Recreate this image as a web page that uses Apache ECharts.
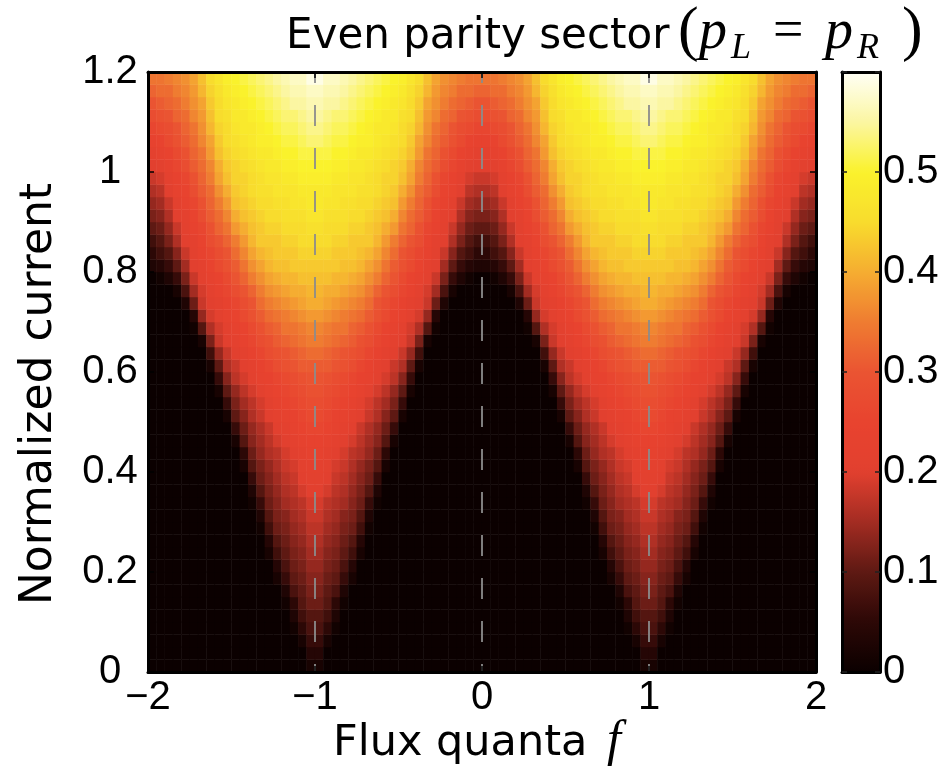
<!DOCTYPE html>
<html>
<head>
<meta charset="utf-8">
<script src="https://cdn.jsdelivr.net/npm/echarts@6/dist/echarts.min.js"></script>
<style>
html,body{margin:0;padding:0;background:#fff;}
#chart{width:946px;height:775px;}
</style>
</head>
<body>
<div id="chart"></div>
<script>
// Flux cell centres (f), 0.05 wide, left to right
const fluxCenters = [
-1.975,-1.925,-1.875,-1.825,-1.775,-1.725,-1.675,-1.625,-1.575,-1.525,
-1.475,-1.425,-1.375,-1.325,-1.275,-1.225,-1.175,-1.125,-1.075,-1.025,
-0.975,-0.925,-0.875,-0.825,-0.775,-0.725,-0.675,-0.625,-0.575,-0.525,
-0.475,-0.425,-0.375,-0.325,-0.275,-0.225,-0.175,-0.125,-0.075,-0.025,
0.025,0.075,0.125,0.175,0.225,0.275,0.325,0.375,0.425,0.475,
0.525,0.575,0.625,0.675,0.725,0.775,0.825,0.875,0.925,0.975,
1.025,1.075,1.125,1.175,1.225,1.275,1.325,1.375,1.425,1.475,
1.525,1.575,1.625,1.675,1.725,1.775,1.825,1.875,1.925,1.975];

// Normalized-current cell centres, 0.025 tall, bottom to top
const currentCenters = [
0.0125,0.0375,0.0625,0.0875,0.1125,0.1375,0.1625,0.1875,0.2125,0.2375,0.2625,0.2875,
0.3125,0.3375,0.3625,0.3875,0.4125,0.4375,0.4625,0.4875,0.5125,0.5375,0.5625,0.5875,
0.6125,0.6375,0.6625,0.6875,0.7125,0.7375,0.7625,0.7875,0.8125,0.8375,0.8625,0.8875,
0.9125,0.9375,0.9625,0.9875,1.0125,1.0375,1.0625,1.0875,1.1125,1.1375,1.1625,1.1875];

// Colour value, in hundredths; one row per current level (bottom to top), 80 flux cells each
const r00=[0,0,0,0,0,0,0,0,0,0,0,0,0,0,0,0,0,0,0,2, 2,0,0,0,0,0,0,0,0,0,0,0,0,0,0,0,0,0,0,0, 0,0,0,0,0,0,0,0,0,0,0,0,0,0,0,0,0,0,0,2, 2,0,0,0,0,0,0,0,0,0,0,0,0,0,0,0,0,0,0,0];
const r01=[0,0,0,0,0,0,0,0,0,0,0,0,0,0,0,0,0,0,0,4, 4,0,0,0,0,0,0,0,0,0,0,0,0,0,0,0,0,0,0,0, 0,0,0,0,0,0,0,0,0,0,0,0,0,0,0,0,0,0,0,4, 4,0,0,0,0,0,0,0,0,0,0,0,0,0,0,0,0,0,0,0];
const r02=[0,0,0,0,0,0,0,0,0,0,0,0,0,0,0,0,0,0,2,6, 6,2,0,0,0,0,0,0,0,0,0,0,0,0,0,0,0,0,0,0, 0,0,0,0,0,0,0,0,0,0,0,0,0,0,0,0,0,0,2,6, 6,2,0,0,0,0,0,0,0,0,0,0,0,0,0,0,0,0,0,0];
const r03=[0,0,0,0,0,0,0,0,0,0,0,0,0,0,0,0,0,1,5,8, 8,5,1,0,0,0,0,0,0,0,0,0,0,0,0,0,0,0,0,0, 0,0,0,0,0,0,0,0,0,0,0,0,0,0,0,0,0,1,5,8, 8,5,1,0,0,0,0,0,0,0,0,0,0,0,0,0,0,0,0,0];
const r04=[0,0,0,0,0,0,0,0,0,0,0,0,0,0,0,0,0,3,7,9, 9,7,3,0,0,0,0,0,0,0,0,0,0,0,0,0,0,0,0,0, 0,0,0,0,0,0,0,0,0,0,0,0,0,0,0,0,0,3,7,9, 9,7,3,0,0,0,0,0,0,0,0,0,0,0,0,0,0,0,0,0];
const r05=[0,0,0,0,0,0,0,0,0,0,0,0,0,0,0,0,1,5,9,11, 11,9,5,1,0,0,0,0,0,0,0,0,0,0,0,0,0,0,0,0, 0,0,0,0,0,0,0,0,0,0,0,0,0,0,0,0,1,5,9,11, 11,9,5,1,0,0,0,0,0,0,0,0,0,0,0,0,0,0,0,0];
const r06=[0,0,0,0,0,0,0,0,0,0,0,0,0,0,0,0,3,8,10,12, 12,10,8,3,0,0,0,0,0,0,0,0,0,0,0,0,0,0,0,0, 0,0,0,0,0,0,0,0,0,0,0,0,0,0,0,0,3,8,10,12, 12,10,8,3,0,0,0,0,0,0,0,0,0,0,0,0,0,0,0,0];
const r07=[0,0,0,0,0,0,0,0,0,0,0,0,0,0,0,2,6,10,11,13, 13,11,10,6,2,0,0,0,0,0,0,0,0,0,0,0,0,0,0,0, 0,0,0,0,0,0,0,0,0,0,0,0,0,0,0,2,6,10,11,13, 13,11,10,6,2,0,0,0,0,0,0,0,0,0,0,0,0,0,0,0];
const r08=[0,0,0,0,0,0,0,0,0,0,0,0,0,0,0,4,8,11,12,14, 14,12,11,8,4,0,0,0,0,0,0,0,0,0,0,0,0,0,0,0, 0,0,0,0,0,0,0,0,0,0,0,0,0,0,0,4,8,11,12,14, 14,12,11,8,4,0,0,0,0,0,0,0,0,0,0,0,0,0,0,0];
const r09=[0,0,0,0,0,0,0,0,0,0,0,0,0,0,2,7,10,12,13,15, 15,13,12,10,7,2,0,0,0,0,0,0,0,0,0,0,0,0,0,0, 0,0,0,0,0,0,0,0,0,0,0,0,0,0,2,7,10,12,13,15, 15,13,12,10,7,2,0,0,0,0,0,0,0,0,0,0,0,0,0,0];
const r10=[0,0,0,0,0,0,0,0,0,0,0,0,0,0,4,9,11,13,14,16, 16,14,13,11,9,4,0,0,0,0,0,0,0,0,0,0,0,0,0,0, 0,0,0,0,0,0,0,0,0,0,0,0,0,0,4,9,11,13,14,16, 16,14,13,11,9,4,0,0,0,0,0,0,0,0,0,0,0,0,0,0];
const r11=[0,0,0,0,0,0,0,0,0,0,0,0,0,1,7,11,12,14,15,17, 17,15,14,12,11,7,1,0,0,0,0,0,0,0,0,0,0,0,0,0, 0,0,0,0,0,0,0,0,0,0,0,0,0,1,7,11,12,14,15,17, 17,15,14,12,11,7,1,0,0,0,0,0,0,0,0,0,0,0,0,0];
const r12=[0,0,0,0,0,0,0,0,0,0,0,0,0,3,9,12,13,15,16,18, 18,16,15,13,12,9,3,0,0,0,0,0,0,0,0,0,0,0,0,0, 0,0,0,0,0,0,0,0,0,0,0,0,0,3,9,12,13,15,16,18, 18,16,15,13,12,9,3,0,0,0,0,0,0,0,0,0,0,0,0,0];
const r13=[0,0,0,0,0,0,0,0,0,0,0,0,1,6,11,13,15,16,17,19, 19,17,16,15,13,11,6,1,0,0,0,0,0,0,0,0,0,0,0,0, 0,0,0,0,0,0,0,0,0,0,0,0,1,6,11,13,15,16,17,19, 19,17,16,15,13,11,6,1,0,0,0,0,0,0,0,0,0,0,0,0];
const r14=[0,0,0,0,0,0,0,0,0,0,0,0,3,9,12,14,16,17,19,20, 20,19,17,16,14,12,9,3,0,0,0,0,0,0,0,0,0,0,0,0, 0,0,0,0,0,0,0,0,0,0,0,0,3,9,12,14,16,17,19,20, 20,19,17,16,14,12,9,3,0,0,0,0,0,0,0,0,0,0,0,0];
const r15=[0,0,0,0,0,0,0,0,0,0,0,0,6,11,13,15,17,18,20,21, 21,20,18,17,15,13,11,6,0,0,0,0,0,0,0,0,0,0,0,0, 0,0,0,0,0,0,0,0,0,0,0,0,6,11,13,15,17,18,20,21, 21,20,18,17,15,13,11,6,0,0,0,0,0,0,0,0,0,0,0,0];
const r16=[0,0,0,0,0,0,0,0,0,0,0,2,9,12,14,16,18,19,21,22, 22,21,19,18,16,14,12,9,2,0,0,0,0,0,0,0,0,0,0,0, 0,0,0,0,0,0,0,0,0,0,0,2,9,12,14,16,18,19,21,22, 22,21,19,18,16,14,12,9,2,0,0,0,0,0,0,0,0,0,0,0];
const r17=[0,0,0,0,0,0,0,0,0,0,0,5,11,14,16,17,19,20,22,23, 23,22,20,19,17,16,14,11,5,0,0,0,0,0,0,0,0,0,0,0, 0,0,0,0,0,0,0,0,0,0,0,5,11,14,16,17,19,20,22,23, 23,22,20,19,17,16,14,11,5,0,0,0,0,0,0,0,0,0,0,0];
const r18=[0,0,0,0,0,0,0,0,0,0,2,9,13,15,17,19,20,22,23,24, 24,23,22,20,19,17,15,13,9,2,0,0,0,0,0,0,0,0,0,0, 0,0,0,0,0,0,0,0,0,0,2,9,13,15,17,19,20,22,23,24, 24,23,22,20,19,17,15,13,9,2,0,0,0,0,0,0,0,0,0,0];
const r19=[0,0,0,0,0,0,0,0,0,0,6,11,14,16,18,20,22,23,25,26, 26,25,23,22,20,18,16,14,11,6,0,0,0,0,0,0,0,0,0,0, 0,0,0,0,0,0,0,0,0,0,6,11,14,16,18,20,22,23,25,26, 26,25,23,22,20,18,16,14,11,6,0,0,0,0,0,0,0,0,0,0];
const r20=[0,0,0,0,0,0,0,0,0,2,10,13,16,18,20,22,23,24,26,27, 27,26,24,23,22,20,18,16,13,10,2,0,0,0,0,0,0,0,0,0, 0,0,0,0,0,0,0,0,0,2,10,13,16,18,20,22,23,24,26,27, 27,26,24,23,22,20,18,16,13,10,2,0,0,0,0,0,0,0,0,0];
const r21=[0,0,0,0,0,0,0,0,0,6,12,15,17,19,21,23,25,26,27,28, 28,27,26,25,23,21,19,17,15,12,6,0,0,0,0,0,0,0,0,0, 0,0,0,0,0,0,0,0,0,6,12,15,17,19,21,23,25,26,27,28, 28,27,26,25,23,21,19,17,15,12,6,0,0,0,0,0,0,0,0,0];
const r22=[0,0,0,0,0,0,0,0,2,10,14,17,19,21,23,25,26,27,28,29, 29,28,27,26,25,23,21,19,17,14,10,2,0,0,0,0,0,0,0,0, 0,0,0,0,0,0,0,0,2,10,14,17,19,21,23,25,26,27,28,29, 29,28,27,26,25,23,21,19,17,14,10,2,0,0,0,0,0,0,0,0];
const r23=[0,0,0,0,0,0,0,0,6,13,17,19,21,23,24,26,27,28,29,30, 30,29,28,27,26,24,23,21,19,17,13,6,0,0,0,0,0,0,0,0, 0,0,0,0,0,0,0,0,6,13,17,19,21,23,24,26,27,28,29,30, 30,29,28,27,26,24,23,21,19,17,13,6,0,0,0,0,0,0,0,0];
const r24=[0,0,0,0,0,0,0,2,10,16,18,20,22,24,26,28,29,30,31,31, 31,31,30,29,28,26,24,22,20,18,16,10,2,0,0,0,0,0,0,0, 0,0,0,0,0,0,0,2,10,16,18,20,22,24,26,28,29,30,31,31, 31,31,30,29,28,26,24,22,20,18,16,10,2,0,0,0,0,0,0,0];
const r25=[0,0,0,0,0,0,0,7,14,18,20,22,24,26,28,29,30,31,32,33, 33,32,31,30,29,28,26,24,22,20,18,14,7,0,0,0,0,0,0,0, 0,0,0,0,0,0,0,7,14,18,20,22,24,26,28,29,30,31,32,33, 33,32,31,30,29,28,26,24,22,20,18,14,7,0,0,0,0,0,0,0];
const r26=[0,0,0,0,0,0,2,12,18,20,22,24,26,28,29,31,32,33,34,35, 35,34,33,32,31,29,28,26,24,22,20,18,12,2,0,0,0,0,0,0, 0,0,0,0,0,0,2,12,18,20,22,24,26,28,29,31,32,33,34,35, 35,34,33,32,31,29,28,26,24,22,20,18,12,2,0,0,0,0,0,0];
const r27=[0,0,0,0,0,1,9,16,19,21,23,25,27,29,31,32,34,34,35,36, 36,35,34,34,32,31,29,27,25,23,21,19,16,9,1,0,0,0,0,0, 0,0,0,0,0,1,9,16,19,21,23,25,27,29,31,32,34,34,35,36, 36,35,34,34,32,31,29,27,25,23,21,19,16,9,1,0,0,0,0,0];
const r28=[0,0,0,0,0,4,14,19,21,23,25,27,29,31,33,34,35,36,37,38, 38,37,36,35,34,33,31,29,27,25,23,21,19,14,4,0,0,0,0,0, 0,0,0,0,0,4,14,19,21,23,25,27,29,31,33,34,35,36,37,38, 38,37,36,35,34,33,31,29,27,25,23,21,19,14,4,0,0,0,0,0];
const r29=[0,0,0,0,3,11,18,20,22,24,26,28,30,33,35,36,37,38,39,40, 40,39,38,37,36,35,33,30,28,26,24,22,20,18,11,3,0,0,0,0, 0,0,0,0,3,11,18,20,22,24,26,28,30,33,35,36,37,38,39,40, 40,39,38,37,36,35,33,30,28,26,24,22,20,18,11,3,0,0,0,0];
const r30=[0,0,0,2,8,15,19,22,24,26,28,30,32,35,37,38,39,40,40,41, 41,40,40,39,38,37,35,32,30,28,26,24,22,19,15,8,2,0,0,0, 0,0,0,2,8,15,19,22,24,26,28,30,32,35,37,38,39,40,40,41, 41,40,40,39,38,37,35,32,30,28,26,24,22,19,15,8,2,0,0,0];
const r31=[0,1,3,6,12,18,21,23,25,27,30,32,35,37,39,40,41,41,42,42, 42,42,41,41,40,39,37,35,32,30,27,25,23,21,18,12,6,3,1,0, 0,1,3,6,12,18,21,23,25,27,30,32,35,37,39,40,41,41,42,42, 42,42,41,41,40,39,37,35,32,30,27,25,23,21,18,12,6,3,1,0];
const r32=[3,4,6,10,15,20,22,25,27,29,31,34,37,39,41,42,42,43,43,43, 43,43,43,42,42,41,39,37,34,31,29,27,25,22,20,15,10,6,4,3, 3,4,6,10,15,20,22,25,27,29,31,34,37,39,41,42,42,43,43,43, 43,43,43,42,42,41,39,37,34,31,29,27,25,22,20,15,10,6,4,3];
const r33=[5,7,9,13,18,21,24,26,28,30,33,36,39,41,42,43,43,43,44,44, 44,44,43,43,43,42,41,39,36,33,30,28,26,24,21,18,13,9,7,5, 5,7,9,13,18,21,24,26,28,30,33,36,39,41,42,43,43,43,44,44, 44,44,43,43,43,42,41,39,36,33,30,28,26,24,21,18,13,9,7,5];
const r34=[7,9,12,16,20,22,25,28,30,32,35,38,41,43,43,43,44,44,45,45, 45,45,44,44,43,43,43,41,38,35,32,30,28,25,22,20,16,12,9,7, 7,9,12,16,20,22,25,28,30,32,35,38,41,43,43,43,44,44,45,45, 45,45,44,44,43,43,43,41,38,35,32,30,28,25,22,20,16,12,9,7];
const r35=[10,11,14,18,21,24,26,29,32,34,38,40,42,43,44,44,45,45,45,46, 46,45,45,45,44,44,43,42,40,38,34,32,29,26,24,21,18,14,11,10, 10,11,14,18,21,24,26,29,32,34,38,40,42,43,44,44,45,45,45,46, 46,45,45,45,44,44,43,42,40,38,34,32,29,26,24,21,18,14,11,10];
const r36=[12,13,16,20,22,25,28,31,33,36,40,42,43,44,45,45,46,46,46,47, 47,46,46,46,45,45,44,43,42,40,36,33,31,28,25,22,20,16,13,12, 12,13,16,20,22,25,28,31,33,36,40,42,43,44,45,45,46,46,46,47, 47,46,46,46,45,45,44,43,42,40,36,33,31,28,25,22,20,16,13,12];
const r37=[14,15,18,21,24,26,29,32,35,38,42,43,44,45,45,46,46,47,47,48, 48,47,47,46,46,45,45,44,43,42,38,35,32,29,26,24,21,18,15,14, 14,15,18,21,24,26,29,32,35,38,42,43,44,45,45,46,46,47,47,48, 48,47,47,46,46,45,45,44,43,42,38,35,32,29,26,24,21,18,15,14];
const r38=[16,17,20,23,25,28,31,33,37,40,43,44,45,46,46,47,47,47,48,48, 48,48,47,47,47,46,46,45,44,43,40,37,33,31,28,25,23,20,17,16, 16,17,20,23,25,28,31,33,37,40,43,44,45,46,46,47,47,47,48,48, 48,48,47,47,47,46,46,45,44,43,40,37,33,31,28,25,23,20,17,16];
const r39=[18,19,22,24,26,29,32,35,39,42,44,44,45,46,47,47,48,48,49,49, 49,49,48,48,47,47,46,45,44,44,42,39,35,32,29,26,24,22,19,18, 18,19,22,24,26,29,32,35,39,42,44,44,45,46,47,47,48,48,49,49, 49,49,48,48,47,47,46,45,44,44,42,39,35,32,29,26,24,22,19,18];
const r40=[20,21,23,26,28,31,33,36,40,43,44,45,46,47,48,48,49,49,50,50, 50,50,49,49,48,48,47,46,45,44,43,40,36,33,31,28,26,23,21,20, 20,21,23,26,28,31,33,36,40,43,44,45,46,47,48,48,49,49,50,50, 50,50,49,49,48,48,47,46,45,44,43,40,36,33,31,28,26,23,21,20];
const r41=[22,23,25,27,29,32,34,38,42,44,45,46,47,48,48,49,50,50,51,51, 51,51,50,50,49,48,48,47,46,45,44,42,38,34,32,29,27,25,23,22, 22,23,25,27,29,32,34,38,42,44,45,46,47,48,48,49,50,50,51,51, 51,51,50,50,49,48,48,47,46,45,44,42,38,34,32,29,27,25,23,22];
const r42=[24,25,27,29,31,33,36,39,43,45,46,47,48,49,49,50,51,51,52,53, 53,52,51,51,50,49,49,48,47,46,45,43,39,36,33,31,29,27,25,24, 24,25,27,29,31,33,36,39,43,45,46,47,48,49,49,50,51,51,52,53, 53,52,51,51,50,49,49,48,47,46,45,43,39,36,33,31,29,27,25,24];
const r43=[26,27,28,30,32,34,37,41,44,45,47,48,48,49,50,51,52,52,53,54, 54,53,52,52,51,50,49,48,48,47,45,44,41,37,34,32,30,28,27,26, 26,27,28,30,32,34,37,41,44,45,47,48,48,49,50,51,52,52,53,54, 54,53,52,52,51,50,49,48,48,47,45,44,41,37,34,32,30,28,27,26];
const r44=[28,29,30,32,33,36,38,42,45,46,48,48,49,50,51,52,53,53,54,55, 55,54,53,53,52,51,50,49,48,48,46,45,42,38,36,33,32,30,29,28, 28,29,30,32,33,36,38,42,45,46,48,48,49,50,51,52,53,53,54,55, 55,54,53,53,52,51,50,49,48,48,46,45,42,38,36,33,32,30,29,28];
const r45=[30,31,32,33,35,37,39,43,45,47,48,49,50,51,52,53,54,55,55,56, 56,55,55,54,53,52,51,50,49,48,47,45,43,39,37,35,33,32,31,30, 30,31,32,33,35,37,39,43,45,47,48,49,50,51,52,53,54,55,55,56, 56,55,55,54,53,52,51,50,49,48,47,45,43,39,37,35,33,32,31,30];
const r46=[32,33,33,35,36,38,41,44,46,48,49,50,51,52,53,54,55,56,56,57, 57,56,56,55,54,53,52,51,50,49,48,46,44,41,38,36,35,33,33,32, 32,33,33,35,36,38,41,44,46,48,49,50,51,52,53,54,55,56,56,57, 57,56,56,55,54,53,52,51,50,49,48,46,44,41,38,36,35,33,33,32];
const r47=[34,34,35,36,37,39,42,45,47,49,50,51,52,53,54,55,56,57,57,59, 59,57,57,56,55,54,53,52,51,50,49,47,45,42,39,37,36,35,34,34, 34,34,35,36,37,39,42,45,47,49,50,51,52,53,54,55,56,57,57,59, 59,57,57,56,55,54,53,52,51,50,49,47,45,42,39,37,36,35,34,34];
const rows = [r00,r01,r02,r03,r04,r05,r06,r07,r08,r09,r10,r11,r12,r13,r14,r15,r16,r17,r18,r19,r20,r21,r22,r23,
              r24,r25,r26,r27,r28,r29,r30,r31,r32,r33,r34,r35,r36,r37,r38,r39,r40,r41,r42,r43,r44,r45,r46,r47];

// Axis ticks and labels
const xTickValues = [-2,-1,0,1,2];
const xTickLabels = ['\u22122','\u22121','0','1','2'];
const yTickValues = [0,0.2,0.4,0.6,0.8,1,1.2];
const yTickLabels = ['0','0.2','0.4','0.6','0.8','1','1.2'];
const cbTickValues = [0,0.1,0.2,0.3,0.4,0.5];
const cbTickLabels = ['0','0.1','0.2','0.3','0.4','0.5'];
const fluxGuides = [-1,0,1];

rows.forEach((r,j)=>{ if(r.length!==fluxCenters.length) console.error('row '+j+' has '+r.length); });
if(rows.length!==currentCenters.length) console.error('rows '+rows.length);

const heatData = [];
rows.forEach((r,j)=>r.forEach((v,i)=>heatData.push([i,j,v/100])));

function lookup(vals, labels, v){
  for(let k=0;k<vals.length;k++){ if(Math.abs(vals[k]-v)<1e-6) return labels[k]; }
  return '';
}

const SANS = '"Liberation Sans", Arial, Helvetica, sans-serif';
const LABEL = '"DejaVu Sans", Verdana, sans-serif';
const SERIF = '"Liberation Serif", "DejaVu Serif", serif';
const frame = {show:true, onZero:false, lineStyle:{color:'#000', width:3}};
const tickIn = {show:true, inside:true, length:6, lineStyle:{color:'#000', width:1.5}};
const cbTick = {show:true, inside:true, length:5, lineStyle:{color:'#222', width:1.5}};

const chart = echarts.init(document.getElementById('chart'), null, {renderer:'canvas'});
chart.setOption({
  animation:false,
  backgroundColor:'#fff',
  grid:[
    {left:148, top:72, width:668, height:600},
    {left:842, top:72, width:38, height:600}
  ],
  xAxis:[
    {type:'category', gridIndex:0, data:fluxCenters, show:false, boundaryGap:true},
    {type:'value', gridIndex:0, min:-2, max:2, interval:1, position:'bottom', z:10,
      axisLine:frame, axisTick:tickIn, splitLine:{show:false},
      axisLabel:{margin:6, fontSize:40, fontFamily:SANS, color:'#000',
        formatter:v=>lookup(xTickValues,xTickLabels,v)}},
    {type:'value', gridIndex:0, min:-2, max:2, interval:1, position:'top', z:10,
      axisLine:frame, axisTick:tickIn, splitLine:{show:false}, axisLabel:{show:false}},
    {type:'value', gridIndex:1, min:0, max:1, position:'bottom', z:10,
      axisLine:frame, axisTick:{show:false}, splitLine:{show:false}, axisLabel:{show:false}},
    {type:'value', gridIndex:1, min:0, max:1, position:'top', z:10,
      axisLine:frame, axisTick:{show:false}, splitLine:{show:false}, axisLabel:{show:false}}
  ],
  yAxis:[
    {type:'category', gridIndex:0, data:currentCenters, show:false, boundaryGap:true},
    {type:'value', gridIndex:0, min:0, max:1.2, interval:0.2, position:'left', z:10,
      axisLine:frame, axisTick:tickIn, splitLine:{show:false},
      axisLabel:{margin:38, align:'center', fontSize:40, fontFamily:SANS, color:'#000',
        padding:[0,0,14,0], formatter:v=>lookup(yTickValues,yTickLabels,v)}},
    {type:'value', gridIndex:0, min:0, max:1.2, interval:0.2, position:'right', z:10,
      axisLine:frame, axisTick:tickIn, splitLine:{show:false}, axisLabel:{show:false}},
    {type:'value', gridIndex:1, min:0, max:0.6, interval:0.1, position:'right', z:10,
      axisLine:frame, axisTick:cbTick, splitLine:{show:false},
      axisLabel:{margin:3, align:'left', fontSize:40, fontFamily:SANS, color:'#000',
        padding:[0,0,14,0], formatter:v=>lookup(cbTickValues,cbTickLabels,v)}},
    {type:'value', gridIndex:1, min:0, max:0.6, interval:0.1, position:'left', z:10,
      axisLine:frame, axisTick:cbTick, splitLine:{show:false}, axisLabel:{show:false}}
  ],
  visualMap:{
    type:'continuous', min:0, max:0.6, seriesIndex:0, calculable:false, hoverLink:false,
    show:true, orient:'vertical', left:842, top:72, itemWidth:38, itemHeight:600, padding:0,
    text:null, z:4,
    inRange:{color:['#0b0000','#2c0806','#5e1913','#a32c22','#e2402f','#e8432f','#ea5432',
                    '#ef7c31','#f5ad31','#f8dc2d','#faf22c','#fbf6a2','#fffff6']}
  },
  series:[
    {type:'heatmap', xAxisIndex:0, yAxisIndex:0, data:heatData, silent:true,
      itemStyle:{borderWidth:0}, emphasis:{disabled:true}, progressive:0},
    {type:'line', xAxisIndex:1, yAxisIndex:1, data:[], silent:true, z:5,
      markLine:{silent:true, symbol:['none','none'], label:{show:false}, animation:false,
        lineStyle:{color:'#8c8c8c', width:2, type:[21,22], dashOffset:13, opacity:0.9},
        data:fluxGuides.map(v=>({xAxis:v}))}}
  ],
  graphic:[
    {type:'text', x:286, y:37, style:{text:'Even parity sector', font:'42px '+LABEL, fill:'#000', align:'left', verticalAlign:'middle'}},
    {type:'text', x:678, y:33, style:{text:'(', font:'62px '+SERIF, fill:'#000', align:'left', verticalAlign:'middle'}},
    {type:'text', x:699, y:33, style:{text:'p', font:'italic 56px '+SERIF, fill:'#000', align:'left', verticalAlign:'middle'}},
    {type:'text', x:731, y:49, style:{text:'L', font:'italic 36px '+SERIF, fill:'#000', align:'left', verticalAlign:'middle'}},
    {type:'text', x:773, y:33, style:{text:'=', font:'54px '+SERIF, fill:'#000', align:'left', verticalAlign:'middle'}},
    {type:'text', x:825, y:33, style:{text:'p', font:'italic 56px '+SERIF, fill:'#000', align:'left', verticalAlign:'middle'}},
    {type:'text', x:857, y:49, style:{text:'R', font:'italic 36px '+SERIF, fill:'#000', align:'left', verticalAlign:'middle'}},
    {type:'text', x:902, y:33, style:{text:')', font:'62px '+SERIF, fill:'#000', align:'left', verticalAlign:'middle'}},
    {type:'text', x:333, y:744, style:{text:'Flux quanta', font:'43px '+LABEL, fill:'#000', align:'left', verticalAlign:'middle'}},
    {type:'text', x:607, y:742, style:{text:'f', font:'italic 50px '+SERIF, fill:'#000', align:'left', verticalAlign:'middle'}},
    {type:'text', x:40, y:394, rotation:Math.PI/2, style:{text:'Normalized current', font:'44px '+LABEL, fill:'#000', align:'center', verticalAlign:'middle'}}
  ]
});
</script>
</body>
</html>
